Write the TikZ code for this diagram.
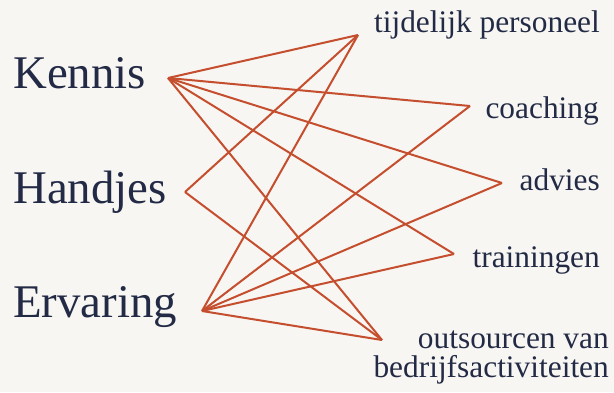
\documentclass[tikz,border=0pt]{standalone}
\usepackage{fontspec}
\setmainfont{Liberation Serif}
\usepackage{xcolor}
\definecolor{linkc}{HTML}{C44E2D}
\definecolor{textc}{HTML}{232A45}
\definecolor{bgc}{HTML}{F7F6F2}

\begin{document}
\begin{tikzpicture}[x=1bp,y=-1bp,
    bigword/.style={text=textc, font=\fontsize{47}{50}\selectfont,
      inner sep=0pt, anchor=base west},
    offer/.style={text=textc, font=\fontsize{31.5}{29}\selectfont,
      inner sep=0pt, anchor=base east, align=right},
    link/.style={draw=linkc, line width=2bp}]
  \useasboundingbox (0,0) rectangle (614,392);
  \fill[bgc] (0,0) rectangle (614,392);

  % ==========================================================
  %                     LEFT WORDS
  % ==========================================================
  \node[bigword] (kennis)   at (13,88)  {Kennis};
  \node[bigword] (handjes)  at (13,203) {Handjes};
  \node[bigword] (ervaring) at (13,317) {Ervaring};

  % ==========================================================
  %                     RIGHT WORDS
  % ==========================================================
  \node[offer] (tijdelijk)  at (600,32)  {tijdelijk personeel};
  \node[offer] (coaching)   at (599,118) {coaching};
  \node[offer] (advies)     at (600,190) {advies};
  \node[offer] (trainingen) at (600,267) {trainingen};
  % base of a two-line node sits on its last line
  \node[offer] (outsourcen) at (609,377) {outsourcen van\\bedrijfsactiviteiten};

  % meeting points of the lines
  \coordinate (p-kennis)     at (168,78);
  \coordinate (p-handjes)    at (185,192);
  \coordinate (p-ervaring)   at (202,311);
  \coordinate (p-tijdelijk)  at (358,35);
  \coordinate (p-coaching)   at (470,106);
  \coordinate (p-advies)     at (502,183);
  \coordinate (p-trainingen) at (454,254);
  \coordinate (p-outsourcen) at (382,340);

  % ==========================================================
  %                     LINKS
  % ==========================================================
  \foreach \dst in {tijdelijk,coaching,advies,trainingen,outsourcen} {
    \draw[link] (p-kennis) -- (p-\dst);
    \draw[link] (p-ervaring) -- (p-\dst);
  }
  \draw[link] (p-handjes) -- (p-tijdelijk);
  \draw[link] (p-handjes) -- (p-outsourcen);

\end{tikzpicture}
\end{document}
